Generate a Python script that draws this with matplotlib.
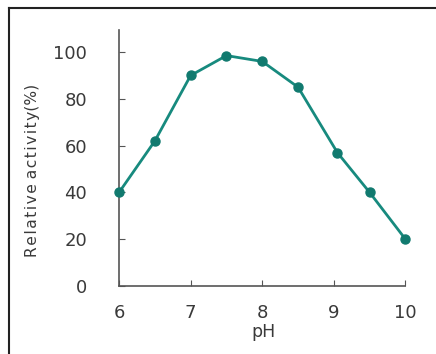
import matplotlib
matplotlib.use('Agg')
import matplotlib.pyplot as plt
from matplotlib.lines import Line2D

ph = [6, 6.5, 7, 7.5, 8, 8.5, 9.05, 9.5, 10]
activity = [40, 62, 90, 98.5, 96, 85, 57, 40, 20]
xticks = [6, 7, 8, 9, 10]
yticks = [0, 20, 40, 60, 80, 100]

teal = '#178a7e'
txt = '#3a3a3a'
plt.rcParams['font.family'] = ['DejaVu Sans']

fig = plt.figure(figsize=(4.36, 3.54), dpi=100)
ax = fig.add_axes([0.273, 0.192, 0.657, 0.723])
ax.plot(ph, activity, color=teal, lw=2, marker='o', ms=6.5, mfc='#117a6f', mec='#117a6f',
        clip_on=False, zorder=3)

ax.set_xlim(6, 10)
ax.set_ylim(0, 109.4)
ax.set_xticks(xticks)
ax.set_yticks(yticks)
ax.spines['top'].set_visible(False)
ax.spines['right'].set_visible(False)
for s in ('left', 'bottom'):
    ax.spines[s].set_color('#555555')
    ax.spines[s].set_linewidth(1.2)
ax.tick_params(axis='y', direction='in', length=4, color='#555555', pad=23, labelsize=13, labelcolor=txt)
ax.tick_params(axis='x', direction='in', length=4, color='#555555', pad=13, labelsize=13, labelcolor=txt)

# letter-spaced axis title, like the original
ylab = ' '.join('\u200a'.join(w) for w in 'Relative activity'.split(' ')) + '(%)'
fig.text(32 / 436, 1 - 170 / 354, ylab, rotation=90, ha='center', va='center', fontsize=11.2, color=txt)
fig.text(263 / 436, 1 - 332 / 354, 'pH', ha='center', va='center', fontsize=12.5, color=txt)

# frame around the figure (left and top only visible)
fig.add_artist(Line2D([9 / 436, 9 / 436], [0, 1 - 8 / 354], transform=fig.transFigure, color='#222222', lw=1.5))
fig.add_artist(Line2D([9 / 436, 1], [1 - 8 / 354, 1 - 8 / 354], transform=fig.transFigure, color='#222222', lw=1.5))

fig.savefig('out.png', dpi=100)
